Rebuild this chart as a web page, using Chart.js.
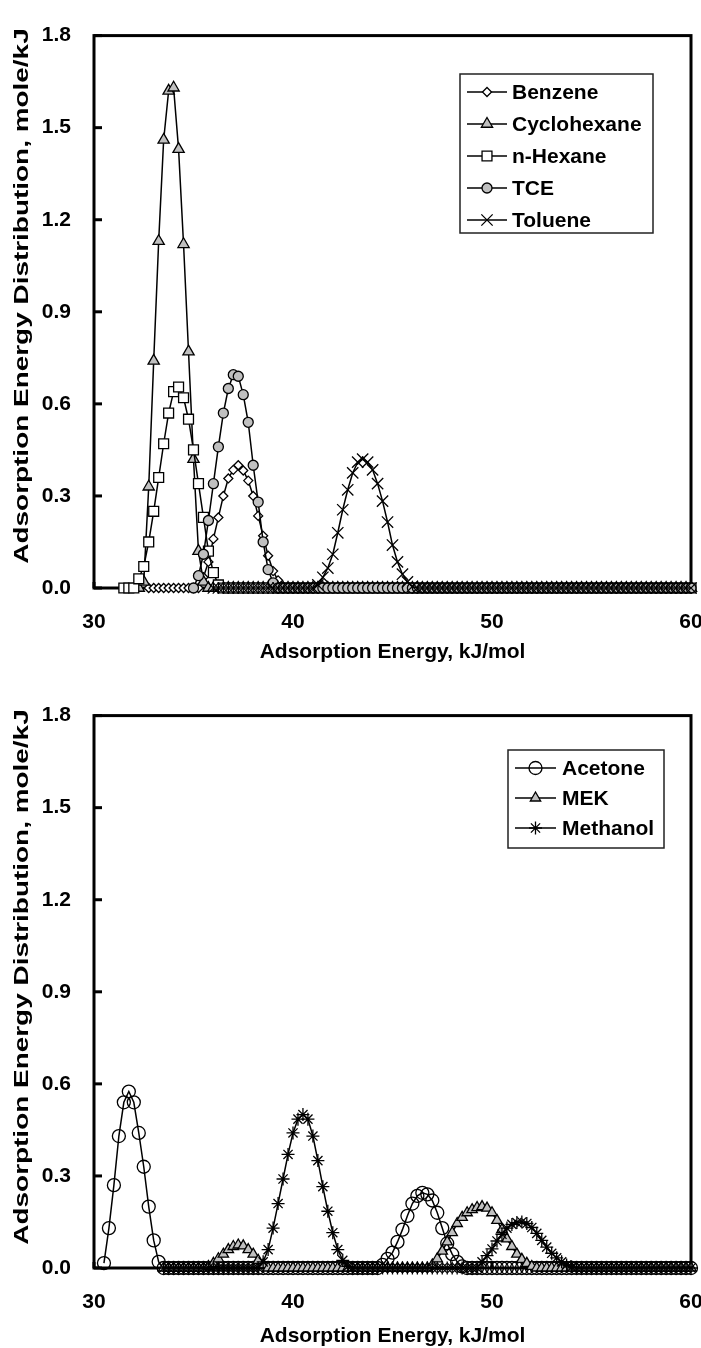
<!DOCTYPE html>
<html>
<head>
<meta charset="utf-8">
<script src="https://cdn.jsdelivr.net/npm/chart.js@4.4.0/dist/chart.umd.min.js"></script>
<style>
  html, body { margin: 0; padding: 0; background: #fff; overflow: hidden; }
  canvas { position: absolute; left: 0; }
  #topChart { top: 0; }
  #bottomChart { top: 680px; }
</style>
</head>
<body>
<canvas id="topChart" width="701" height="680"></canvas>
<canvas id="bottomChart" width="701" height="680"></canvas>
<script>
const _ = null;

// adsorption energy grid, kJ/mol (shared by both panels)
const energy = [
  30,30.25,30.5,30.75,31,31.25,31.5,31.75,32,32.25,32.5,32.75,33,33.25,33.5,33.75,34,34.25,34.5,34.75,
  35,35.25,35.5,35.75,36,36.25,36.5,36.75,37,37.25,37.5,37.75,38,38.25,38.5,38.75,39,39.25,39.5,39.75,
  40,40.25,40.5,40.75,41,41.25,41.5,41.75,42,42.25,42.5,42.75,43,43.25,43.5,43.75,44,44.25,44.5,44.75,
  45,45.25,45.5,45.75,46,46.25,46.5,46.75,47,47.25,47.5,47.75,48,48.25,48.5,48.75,49,49.25,49.5,49.75,
  50,50.25,50.5,50.75,51,51.25,51.5,51.75,52,52.25,52.5,52.75,53,53.25,53.5,53.75,54,54.25,54.5,54.75,
  55,55.25,55.5,55.75,56,56.25,56.5,56.75,57,57.25,57.5,57.75,58,58.25,58.5,58.75,59,59.25,59.5,59.75,
  60
];

// top panel, mole/kJ
const benzene = [
  _,_,_,_,_,_,_,_,_,_,_,0,0,0,0,0,0,0,0,0,
  0,0,0.035,0.085,0.16,0.23,0.30,0.357,0.385,0.40,0.383,0.35,0.30,0.235,0.17,0.105,0.055,0.025,0.005,0,
  0,0,0,0,0,0,0,0,0,0,0,0,0,0,0,0,0,0,0,0,
  0,0,0,0,0,0,0,0,0,0,0,0,0,0,0,0,0,0,0,0,
  0,0,0,0,0,0,0,0,0,0,0,0,0,0,0,0,0,0,0,0,
  0,0,0,0,0,0,0,0,0,0,0,0,0,0,0,0,0,0,0,0,
  0
];
const cyclohexane = [
  _,_,_,_,_,_,_,_,_,0,0.02,0.33,0.74,1.13,1.46,1.62,1.63,1.43,1.12,0.77,
  0.42,0.12,0.02,0,0,0,0,0,0,0,0,0,0,0,0,0,0,0,0,0,
  0,0,0,0,0,0,0,0,0,0,0,0,0,0,0,0,0,0,0,0,
  0,0,0,0,0,0,0,0,0,0,0,0,0,0,0,0,0,0,0,0,
  0,0,0,0,0,0,0,0,0,0,0,0,0,0,0,0,0,0,0,0,
  0,0,0,0,0,0,0,0,0,0,0,0,0,0,0,0,0,0,0,0,
  0
];
const nHexane = [
  _,_,_,_,_,_,0,0,0,0.03,0.07,0.15,0.25,0.36,0.47,0.57,0.64,0.655,0.62,0.55,
  0.45,0.34,0.23,0.12,0.05,0.01,0,0,0,0,0,0,0,0,0,0,0,0,0,0,
  0,0,0,0,0,0,0,0,0,0,0,0,0,0,0,0,0,0,0,0,
  0,0,0,0,0,0,0,0,0,0,0,0,0,0,0,0,0,0,0,0,
  0,0,0,0,0,0,0,0,0,0,0,0,0,0,0,0,0,0,0,0,
  0,0,0,0,0,0,0,0,0,0,0,0,0,0,0,0,0,0,0,0,
  0
];
const tce = [
  _,_,_,_,_,_,_,_,_,_,_,_,_,_,_,_,_,_,_,_,
  0,0.04,0.11,0.22,0.34,0.46,0.57,0.65,0.695,0.69,0.63,0.54,0.40,0.28,0.15,0.06,0.017,0,0,0,
  0,0,0,0,0,0,0,0,0,0,0,0,0,0,0,0,0,0,0,0,
  0,0,0,0,0,0,0,0,0,0,0,0,0,0,0,0,0,0,0,0,
  0,0,0,0,0,0,0,0,0,0,0,0,0,0,0,0,0,0,0,0,
  0,0,0,0,0,0,0,0,0,0,0,0,0,0,0,0,0,0,0,0,
  0
];
const toluene = [
  _,_,_,_,_,_,_,_,_,_,_,_,_,_,_,_,_,_,_,_,
  _,_,_,_,0,0,0,0,0,0,0,0,0,0,0,0,0,0,0,0,
  0,0,0,0,0,0.01,0.035,0.065,0.11,0.18,0.255,0.32,0.375,0.41,0.42,0.41,0.385,0.34,0.283,0.215,
  0.14,0.085,0.045,0.02,0.005,0,0,0,0,0,0,0,0,0,0,0,0,0,0,0,
  0,0,0,0,0,0,0,0,0,0,0,0,0,0,0,0,0,0,0,0,
  0,0,0,0,0,0,0,0,0,0,0,0,0,0,0,0,0,0,0,0,
  0
];

// bottom panel, mole/kJ
const acetone = [
  _,_,0.016,0.13,0.27,0.43,0.54,0.575,0.54,0.44,0.33,0.2,0.09,0.02,0,0,0,0,0,0,
  0,0,0,0,0,0,0,0,0,0,0,0,0,0,0,0,0,0,0,0,
  0,0,0,0,0,0,0,0,0,0,0,0,0,0,0,0,0,0,0.01,0.03,
  0.05,0.085,0.125,0.17,0.21,0.235,0.245,0.24,0.22,0.18,0.13,0.08,0.045,0.02,0.005,0,0,0,0,0,
  0,0,0,0,0,0,0,0,0,0,0,0,0,0,0,0,0,0,0,0,
  0,0,0,0,0,0,0,0,0,0,0,0,0,0,0,0,0,0,0,0,
  0
];
const mek = [
  _,_,_,_,_,_,_,_,_,_,_,_,_,_,0,0,0,0,0,0,
  0,0,0,0.005,0.015,0.03,0.045,0.06,0.07,0.075,0.072,0.06,0.045,0.025,0.01,0,0,0,0,0,
  0,0,0,0,0,0,0,0,0,0,0,0,0,0,0,0,0,0,0,0,
  0,0,0,0,0,0,0,0,0.01,0.03,0.055,0.085,0.115,0.145,0.165,0.18,0.19,0.197,0.2,0.195,
  0.18,0.155,0.125,0.095,0.07,0.045,0.028,0.015,0.005,0,0,0,0,0,0,0,0,0,0,0,
  0,0,0,0,0,0,0,0,0,0,0,0,0,0,0,0,0,0,0,0,
  0
];
const methanol = [
  _,_,_,_,_,_,_,_,_,_,_,_,_,_,0,0,0,0,0,0,
  0,0,0,0,0,0,0,0,0,0,0,0,0,0,0.02,0.06,0.13,0.21,0.29,0.37,
  0.44,0.485,0.50,0.485,0.43,0.35,0.265,0.185,0.115,0.06,0.025,0.005,0,0,0,0,0,0,0,0,
  0,0,0,0,0,0,0,0,0,0,0,0,0,0,0,0,0,0,0.02,0.04,
  0.062,0.088,0.11,0.13,0.142,0.148,0.15,0.145,0.132,0.113,0.09,0.068,0.048,0.033,0.02,0.01,0.003,0,0,0,
  0,0,0,0,0,0,0,0,0,0,0,0,0,0,0,0,0,0,0,0,
  0
];

const yTicks = [0, 0.3, 0.6, 0.9, 1.2, 1.5, 1.8];
const xTicks = [30, 40, 50, 60];

const FONT = '"Liberation Sans", Arial, sans-serif';
const GRAY = '#c0c0c0';
const Y_TITLE = 'Adsorption Energy Distribution, mole/kJ';

function series(label, vals, style, radius, fill, order) {
  return {
    label: label,
    data: energy.map((e, i) => ({ x: e, y: vals[i] })),
    borderColor: '#000',
    borderWidth: 1.5,
    pointStyle: style,
    pointRadius: radius,
    pointBorderColor: '#000',
    pointBorderWidth: 1.3,
    pointBackgroundColor: fill,
    spanGaps: false,
    tension: 0,
    clip: false,
    order: order
  };
}

// thick frame plus inward tick marks
const framePlugin = {
  id: 'frame',
  beforeDatasetsDraw(chart) {
    const { ctx, chartArea: a, scales: { x, y } } = chart;
    ctx.save();
    ctx.strokeStyle = '#000';
    ctx.lineWidth = 3;
    ctx.strokeRect(a.left, a.top, a.right - a.left, a.bottom - a.top);
    y.ticks.forEach(t => {
      const py = y.getPixelForValue(t.value);
      ctx.beginPath(); ctx.moveTo(a.left, py); ctx.lineTo(a.left + 8, py); ctx.stroke();
    });
    x.ticks.forEach(t => {
      const px = x.getPixelForValue(t.value);
      ctx.beginPath(); ctx.moveTo(px, a.bottom); ctx.lineTo(px, a.bottom - 6); ctx.stroke();
    });
    ctx.restore();
  }
};

// the y title in the original is stretched along its length
const yTitlePlugin = {
  id: 'yTitle',
  afterDraw(chart, args, opts) {
    const ctx = chart.ctx;
    ctx.save();
    ctx.translate(opts.x, opts.y);
    ctx.rotate(-Math.PI / 2);
    ctx.scale(opts.stretch, 1);
    ctx.font = 'bold 21px ' + FONT;
    ctx.fillStyle = '#000';
    ctx.textAlign = 'center';
    ctx.textBaseline = 'middle';
    ctx.fillText(Y_TITLE, 0, 0);
    ctx.restore();
  }
};

// Excel-like boxed legend: line sample with the marker in the middle
const boxLegend = {
  id: 'boxLegend',
  afterDraw(chart, args, opts) {
    const ctx = chart.ctx;
    const [x1, y1, x2, y2] = opts.box;
    ctx.save();
    ctx.fillStyle = '#fff';
    ctx.fillRect(x1, y1, x2 - x1, y2 - y1);
    ctx.strokeStyle = '#222';
    ctx.lineWidth = 1.5;
    ctx.strokeRect(x1, y1, x2 - x1, y2 - y1);
    ctx.font = 'bold 21px ' + FONT;
    ctx.textBaseline = 'middle';
    ctx.textAlign = 'left';
    chart.data.datasets.forEach((ds, i) => {
      const yy = opts.firstRow + i * opts.rowStep;
      ctx.strokeStyle = '#000';
      ctx.lineWidth = 1.5;
      ctx.beginPath(); ctx.moveTo(opts.lineX[0], yy); ctx.lineTo(opts.lineX[1], yy); ctx.stroke();
      ctx.fillStyle = ds.pointBackgroundColor;
      ctx.lineWidth = 1.3;
      Chart.helpers.drawPoint(ctx, {
        pointStyle: ds.pointStyle,
        radius: ds.pointRadius,
        rotation: 0,
        borderWidth: 1.3
      }, (opts.lineX[0] + opts.lineX[1]) / 2, yy);
      ctx.fillStyle = '#000';
      ctx.fillText(ds.label, opts.textX, yy + 1);
    });
    ctx.restore();
  }
};

function makeChart(id, datasets, legendOpts, titleBottomPad, yTitleY) {
  return new Chart(document.getElementById(id), {
    type: 'line',
    data: { datasets: datasets },
    options: {
      responsive: false,
      animation: false,
      events: [],
      layout: { padding: { left: 0, right: 10, top: 18, bottom: 0 } },
      plugins: {
        legend: { display: false },
        tooltip: { enabled: false },
        boxLegend: legendOpts,
        yTitle: { x: 22, y: yTitleY, stretch: 1.33 }
      },
      scales: {
        x: {
          type: 'linear',
          min: 30,
          max: 60,
          afterBuildTicks: s => { s.ticks = xTicks.map(v => ({ value: v })); },
          afterFit: s => { s.height = 92; s.paddingLeft = 0; s.paddingRight = 0; },
          grid: { display: false, drawTicks: false },
          border: { display: false },
          ticks: {
            color: '#000',
            padding: 22,
            maxRotation: 0,
            font: { family: FONT, size: 21, weight: 'bold' },
            callback: v => String(v)
          },
          title: {
            display: true,
            text: 'Adsorption Energy, kJ/mol',
            color: '#000',
            padding: { top: 0, bottom: titleBottomPad },
            font: { family: FONT, size: 21, weight: 'bold' }
          }
        },
        y: {
          min: 0,
          max: 1.8,
          afterBuildTicks: s => { s.ticks = yTicks.map(v => ({ value: v })); },
          afterFit: s => { s.width = 94; },
          grid: { display: false, drawTicks: false },
          border: { display: false },
          ticks: {
            color: '#000',
            padding: 23,
            font: { family: FONT, size: 21, weight: 'bold' },
            callback: v => v.toFixed(1)
          },
          title: { display: false }
        }
      }
    },
    plugins: [framePlugin, yTitlePlugin, boxLegend]
  });
}

makeChart('topChart', [
  series('Benzene', benzene, 'rectRot', 4.5, '#fff', 5),
  series('Cyclohexane', cyclohexane, 'triangle', 6.5, GRAY, 4),
  series('n-Hexane', nHexane, 'rect', 7, '#fff', 3),
  series('TCE', tce, 'circle', 5, GRAY, 2),
  series('Toluene', toluene, 'crossRot', 8, '#000', 1)
], { box: [460, 74, 653, 233], firstRow: 92, rowStep: 32, lineX: [467, 507], textX: 512 }, 15, 296);

makeChart('bottomChart', [
  series('Acetone', acetone, 'circle', 6.5, 'rgba(0,0,0,0)', 3),
  series('MEK', mek, 'triangle', 6, GRAY, 2),
  series('Methanol', methanol, 'star', 6.5, '#000', 1)
], { box: [508, 70, 664, 168], firstRow: 88, rowStep: 30, lineX: [515, 556], textX: 562 }, 11, 297);
</script>
</body>
</html>
